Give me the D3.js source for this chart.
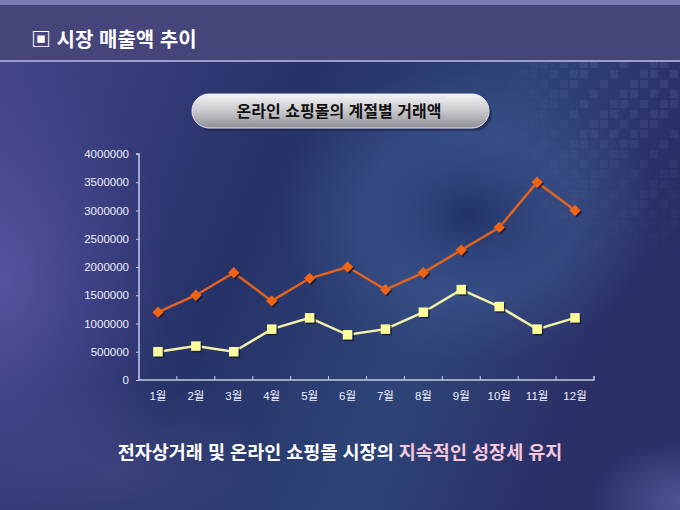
<!DOCTYPE html>
<html lang="ko">
<head>
<meta charset="UTF-8">
<title>시장 매출액 추이</title>
<style>
  body { margin: 0; background: #1e2a5c; }
  svg { display: block; font-family: "Noto Sans CJK KR", "Noto Sans", sans-serif; }
</style>
</head>
<body>
<svg id="chart"></svg>
<script src="https://d3js.org/d3.v7.min.js"></script>
<script>
// data
var months = ['1월', '2월', '3월', '4월', '5월', '6월', '7월', '8월', '9월', '10월', '11월', '12월'];
var seriesOrange = [1200000, 1500000, 1900000, 1400000, 1800000, 2000000, 1600000, 1900000, 2300000, 2700000, 3500000, 3000000];
var seriesYellow = [500000, 600000, 500000, 900000, 1100000, 800000, 900000, 1200000, 1600000, 1300000, 900000, 1100000];
var yTicks = [0, 500000, 1000000, 1500000, 2000000, 2500000, 3000000, 3500000, 4000000];

var W = 680, H = 510;
var svg = d3.select('#chart').attr('width', W).attr('height', H);
var defs = svg.append('defs');

// background gradients
var bg = defs.append('linearGradient').attr('id', 'bg').attr('x1', 0).attr('y1', 0).attr('x2', 1).attr('y2', 0.3);
bg.append('stop').attr('offset', 0).attr('stop-color', '#46468c');
bg.append('stop').attr('offset', 0.45).attr('stop-color', '#263268');
bg.append('stop').attr('offset', 0.75).attr('stop-color', '#2e4478');
bg.append('stop').attr('offset', 1).attr('stop-color', '#2a2f66');
svg.append('rect').attr('width', W).attr('height', H).attr('fill', 'url(#bg)');

var glowL = defs.append('radialGradient').attr('id', 'glowL');
glowL.append('stop').attr('offset', 0).attr('stop-color', '#6c64b8').attr('stop-opacity', 0.55);
glowL.append('stop').attr('offset', 1).attr('stop-color', '#5a50a8').attr('stop-opacity', 0);
svg.append('ellipse').attr('cx', 0).attr('cy', 280).attr('rx', 170).attr('ry', 230).attr('fill', 'url(#glowL)');

var glowC = defs.append('radialGradient').attr('id', 'glowC');
glowC.append('stop').attr('offset', 0).attr('stop-color', '#1e2d62').attr('stop-opacity', 0.8);
glowC.append('stop').attr('offset', 0.55).attr('stop-color', '#42609a').attr('stop-opacity', 0.4);
glowC.append('stop').attr('offset', 1).attr('stop-color', '#42609a').attr('stop-opacity', 0);
svg.append('ellipse').attr('cx', 470).attr('cy', 215).attr('rx', 190).attr('ry', 150).attr('fill', 'url(#glowC)');

var glowB = defs.append('radialGradient').attr('id', 'glowB');
glowB.append('stop').attr('offset', 0).attr('stop-color', '#6a64a8').attr('stop-opacity', 0.3);
glowB.append('stop').attr('offset', 1).attr('stop-color', '#6a64a8').attr('stop-opacity', 0);
svg.append('ellipse').attr('cx', 120).attr('cy', 470).attr('rx', 150).attr('ry', 90).attr('fill', 'url(#glowB)');

var glowR = defs.append('radialGradient').attr('id', 'glowR');
glowR.append('stop').attr('offset', 0).attr('stop-color', '#8a8ad8').attr('stop-opacity', 0.4);
glowR.append('stop').attr('offset', 1).attr('stop-color', '#8a8ad8').attr('stop-opacity', 0);
svg.append('ellipse').attr('cx', 680).attr('cy', 500).attr('rx', 90).attr('ry', 60).attr('fill', 'url(#glowR)');

// checkered decoration, top right
var checks = svg.append('g').attr('opacity', 0.5);
for (var r = 0; r < 22; r++) {
  for (var c = 0; c < 18; c++) {
    var cx = 500 + c * 10, cy = 60 + r * 10;
    var fade = Math.max(0, 1 - r / 22) * Math.min(1, c / 8);
    if ((r * 7 + c * 3) % 4 === 0 || (r + c) % 3 === 0) {
      checks.append('rect').attr('x', cx).attr('y', cy).attr('width', 8).attr('height', 8)
        .attr('fill', '#8a90c8').attr('opacity', 0.3 * fade);
    }
  }
}

// header bar
svg.append('rect').attr('x', 0).attr('y', 0).attr('width', W).attr('height', 5).attr('fill', '#7a7cb4');
svg.append('rect').attr('x', 0).attr('y', 5).attr('width', W).attr('height', 55).attr('fill', '#46457a');
svg.append('rect').attr('x', 0).attr('y', 60).attr('width', W).attr('height', 2).attr('fill', '#9c9ccc');
svg.append('text').attr('x', 31).attr('y', 47)
  .attr('fill', '#ffffff').attr('font-size', 20).attr('font-weight', 'bold')
  .text('▣ 시장 매출액 추이');

// subtitle pill
var pill = defs.append('linearGradient').attr('id', 'pill').attr('x1', 0).attr('y1', 0).attr('x2', 0).attr('y2', 1);
pill.append('stop').attr('offset', 0).attr('stop-color', '#f4f4f6');
pill.append('stop').attr('offset', 0.5).attr('stop-color', '#c8c8cc');
pill.append('stop').attr('offset', 1).attr('stop-color', '#8e8e96');
svg.append('rect').attr('x', 195).attr('y', 97).attr('width', 297).attr('height', 34).attr('rx', 17)
  .attr('fill', '#1a1a40').attr('opacity', 0.5);
svg.append('rect').attr('x', 192).attr('y', 94).attr('width', 297).attr('height', 34).attr('rx', 17)
  .attr('fill', 'url(#pill)').attr('stroke', '#e8e8ee').attr('stroke-width', 1);
svg.append('text').attr('x', 339).attr('y', 117).attr('text-anchor', 'middle')
  .attr('fill', '#111111').attr('font-size', 16).attr('font-weight', 'bold')
  .text('온라인 쇼핑몰의 계절별 거래액');

// chart
var margin = { left: 139, right: 86, top: 154, bottom: 130 };
var x = d3.scaleBand().domain(months).range([margin.left, W - margin.right]);
var y = d3.scaleLinear().domain([0, 4000000]).range([H - margin.bottom, margin.top]);

var axisColor = '#c4cce6';
var gy = svg.append('g').attr('transform', 'translate(' + margin.left + ',0)')
  .call(d3.axisLeft(y).tickValues(yTicks).tickSize(3).tickPadding(7).tickFormat(d3.format('d')));
var gx = svg.append('g').attr('transform', 'translate(0,' + (H - margin.bottom) + ')')
  .call(d3.axisBottom(x).tickSize(0).tickPadding(12));
[gy, gx].forEach(function (g) {
  g.select('.domain').attr('stroke', axisColor).attr('stroke-width', 1.5);
  g.selectAll('.tick line').attr('stroke', axisColor);
  g.selectAll('.tick text').attr('fill', '#eeeef8').attr('font-size', 11.5)
    .attr('font-family', '"Liberation Sans", "Noto Sans CJK KR", sans-serif');
});
gy.select('.domain').attr('d', 'M-3,' + y(4000000) + 'H0V' + y(0));
gx.select('.domain').attr('d', 'M' + margin.left + ',0H' + (W - margin.right) + 'V-4');
// category dividers on the x axis
gx.selectAll('.divider').data(months.slice(1)).enter().append('line')
  .attr('x1', function (d) { return x(d); }).attr('x2', function (d) { return x(d); })
  .attr('y1', 0).attr('y2', -4).attr('stroke', axisColor);

var line = d3.line()
  .x(function (d, i) { return x(months[i]) + x.bandwidth() / 2; })
  .y(function (d) { return y(d); });

function drawSeries(values, color, stroke, rotate, area) {
  var g = svg.append('g');
  g.append('path').datum(values).attr('d', line).attr('fill', 'none')
    .attr('stroke', stroke).attr('stroke-width', 2.5);
  var sym = d3.symbol().type(d3.symbolSquare).size(area);
  var pts = g.selectAll('.pt').data(values).enter().append('g')
    .attr('transform', function (d, i) {
      return 'translate(' + (x(months[i]) + x.bandwidth() / 2) + ',' + y(d) + ')';
    });
  pts.append('path').attr('d', sym).attr('transform', 'translate(1.5,1.5) rotate(' + rotate + ')')
    .attr('fill', '#151530').attr('opacity', 0.75);
  pts.append('path').attr('d', sym).attr('transform', 'rotate(' + rotate + ')').attr('fill', color);
}
drawSeries(seriesYellow, '#ffff99', '#f2f2a8', 0, 90);
drawSeries(seriesOrange, '#f06414', '#e0641e', 45, 64);

// bottom caption
var cap = svg.append('text').attr('x', 340).attr('y', 459).attr('text-anchor', 'middle')
  .attr('font-size', 18.5).attr('font-weight', 'bold');
cap.append('tspan').attr('fill', '#ffffff').text('전자상거래 및 온라인 쇼핑몰 시장의 ');
cap.append('tspan').attr('fill', '#f6c8dc').text('지속적인 성장세 유지');
</script>
</body>
</html>
